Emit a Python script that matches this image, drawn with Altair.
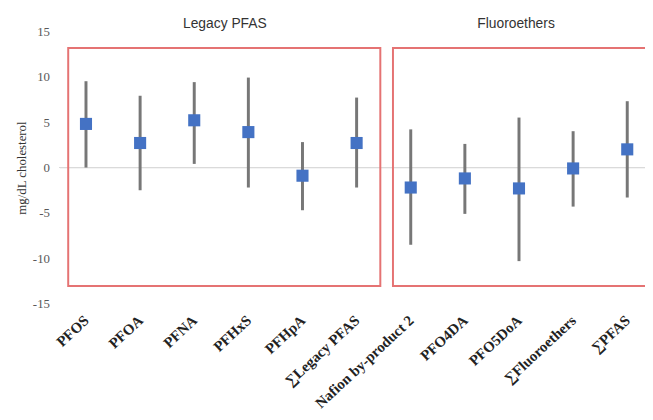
import altair as alt
import pandas as pd

categories = ["PFOS", "PFOA", "PFNA", "PFHxS", "PFHpA", "∑Legacy PFAS",
              "Nafion by-product 2", "PFO4DA", "PFO5DoA", "∑Fluoroethers", "∑PFAS"]
estimates = [4.8, 2.7, 5.2, 3.9, -0.9, 2.7, -2.2, -1.2, -2.3, -0.1, 2.0]
lower = [0.0, -2.5, 0.4, -2.2, -4.7, -2.2, -8.5, -5.1, -10.3, -4.3, -3.3]
upper = [9.5, 7.9, 9.4, 9.9, 2.8, 7.7, 4.2, 2.6, 5.5, 4.0, 7.3]

group_names = ["Legacy PFAS", "Fluoroethers"]
group_first = ["PFOS", "Nafion by-product 2"]
group_last = ["∑Legacy PFAS", "∑PFAS"]
group_label_at = ["PFNA", "PFO5DoA"]
group_label_dx = [31, -3]
box_top = [13.15, 13.15]
box_bottom = [-13.05, -13.05]

y_ticks = [-15, -10, -5, 0, 5, 10, 15]

df = pd.DataFrame({"cat": categories, "est": estimates, "lo": lower, "hi": upper})
groups = pd.DataFrame({"name": group_names, "first": group_first, "last": group_last,
                       "at": group_label_at, "top": box_top, "bottom": box_bottom})

xscale = alt.Scale(type="point", domain=categories, padding=0.41, align=0.6)
yscale = alt.Scale(domain=[-15, 15], nice=False, zero=False)

x_axis = alt.Axis(title=None, labelAngle=-43, labelAlign="right", labelBaseline="middle",
                  labelFont="Liberation Serif", labelFontWeight="bold", labelFontSize=15,
                  labelColor="#222222", labelPadding=14, ticks=False, domain=False,
                  grid=False, labelOverlap=False)
y_axis = alt.Axis(title="mg/dL cholesterol", values=y_ticks, labelExpr="datum.value",
                  labelFont="Liberation Serif", labelFontSize=13, labelColor="#595959",
                  labelPadding=10, ticks=False, domain=False, grid=False,
                  titleFont="Liberation Serif", titleFontSize=13, titleFontWeight="normal",
                  titleColor="#333333", titlePadding=4)

base = alt.Chart(df)

zero = base.mark_rule(color="#d9d9d9", strokeWidth=1).encode(
    y=alt.datum(0, scale=yscale, axis=y_axis)
)

whiskers = base.mark_rule(color="#777777", strokeWidth=3).encode(
    x=alt.X("cat:N", scale=xscale, axis=x_axis, sort=categories),
    y=alt.Y("lo:Q", scale=yscale, axis=y_axis),
    y2="hi:Q",
)

points = base.mark_square(color="#4472C4", size=150, opacity=1).encode(
    x=alt.X("cat:N", scale=xscale, sort=categories),
    y=alt.Y("est:Q", scale=yscale),
)

boxes = alt.Chart(groups).mark_rect(fill="transparent", stroke="#e57373", strokeWidth=2,
                                    xOffset=-18, x2Offset=24).encode(
    x=alt.X("first:N", scale=xscale),
    x2="last:N",
    y=alt.Y("top:Q", scale=yscale),
    y2="bottom:Q",
)

legacy_hdr = alt.Chart(groups.iloc[[0]]).mark_text(
    font="Liberation Sans", fontSize=14, color="#333333", baseline="middle", align="center",
    dx=int(group_label_dx[0])).encode(
    x=alt.X("at:N", scale=xscale), y=alt.value(-7), text="name:N")
fluoro_hdr = alt.Chart(groups.iloc[[1]]).mark_text(
    font="Liberation Sans", fontSize=14, color="#333333", baseline="middle", align="center",
    dx=int(group_label_dx[1])).encode(
    x=alt.X("at:N", scale=xscale), y=alt.value(-7), text="name:N")

chart = alt.layer(zero, boxes, whiskers, points, legacy_hdr, fluoro_hdr).properties(
    width=593, height=276,
    autosize=alt.AutoSizeParams(type="none"),
    padding={"left": 52, "top": 21, "right": 0, "bottom": 107},
    background="white",
).configure_view(stroke=None)

chart.save("out.html", embed_options={"renderer": "svg", "actions": False})
